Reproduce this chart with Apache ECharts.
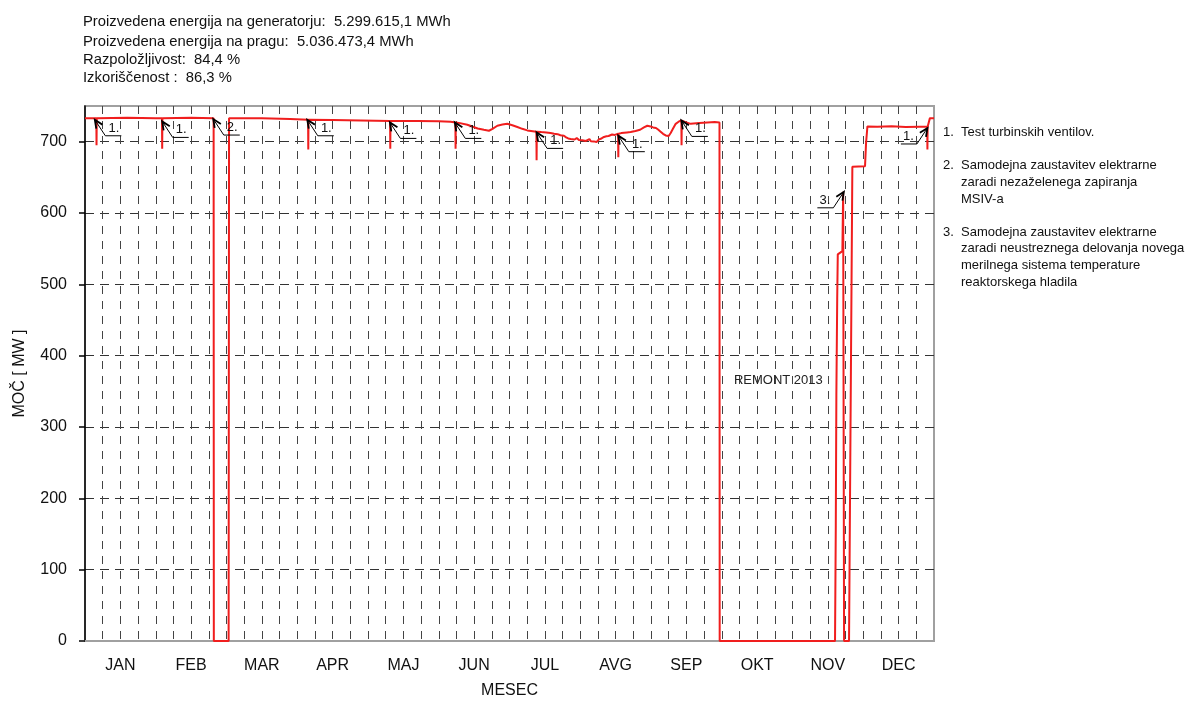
<!DOCTYPE html>
<html>
<head>
<meta charset="utf-8">
<script src="https://cdn.jsdelivr.net/npm/echarts@6/dist/echarts.min.js"></script>
<style>
html,body{margin:0;padding:0;background:#fff;}
#chart{width:1189px;height:704px;}
</style>
</head>
<body>
<div id="chart"></div>
<script>
// ---- DATA ----
const months = ['JAN','FEB','MAR','APR','MAJ','JUN','JUL','AVG','SEP','OKT','NOV','DEC'];
const yTicks = [0,100,200,300,400,500,600,700];

// Power trace [time in months from 1 Jan, power MW]
const traceJanFeb = [[0,733],[0.16,733],[0.163,695],[0.166,733],[0.6,733.5],[1.0,733],[1.088,733],[1.091,690],[1.094,733],[1.5,733.5],[1.818,733],[1.821,0],[2.03,0]];
const traceMarJun = [[2.036,733],[2.5,733],[2.9,731.7],[3.153,730.7],[3.156,689],[3.159,730.7],[3.5,730.5],[3.9,729.8],[4.312,729],[4.315,690],[4.318,729],[4.7,729],[5.0,728.5],[5.168,728],[5.235,727],[5.238,690],[5.241,727],[5.3,726],[5.404,723.7],[5.55,718.5],[5.638,716.7],[5.709,715.3],[5.76,718],[5.828,722.3],[5.9,724],[5.969,725],[6.04,723],[6.111,720.5],[6.18,718],[6.252,715.8]];
const traceJulSep = [[6.38,714],[6.383,674],[6.386,714],[6.45,713.5],[6.52,713],[6.581,712.2],[6.63,711],[6.68,710.5],[6.72,709],[6.769,708.4],[6.80,706],[6.83,704.5],[6.864,703.8],[6.89,705.5],[6.92,703],[6.95,705],[6.98,702.5],[7.0,704],[7.03,702],[7.052,703.8],[7.08,701],[7.1,702],[7.13,703.5],[7.15,700.5],[7.17,702.5],[7.193,700.4],[7.21,702],[7.23,699.5],[7.26,703],[7.29,704],[7.31,705.5],[7.335,706.6],[7.37,707.5],[7.4,708],[7.45,710],[7.49,709.5],[7.535,711],[7.538,678],[7.541,711],[7.58,712],[7.62,712.5],[7.66,713],[7.712,713.6],[7.78,715],[7.846,716.7],[7.9,720],[7.948,722.3],[7.995,721.4],[8.03,720],[8.07,719.2],[8.1,717],[8.136,714],[8.17,711],[8.19,709],[8.207,708.7],[8.23,710.5],[8.25,708],[8.278,712.2],[8.31,718],[8.349,725],[8.39,728],[8.429,729.8],[8.432,695],[8.435,729.5],[8.5,727],[8.561,725],[8.68,726],[8.797,727],[8.9,727.5],[8.968,727],[8.971,0]];
const traceOktDec = [[10.601,0],[10.612,162],[10.62,344],[10.632,480],[10.64,542],[10.705,546.6],[10.716,629.7],[10.726,629.7],[10.729,0],[10.799,0],[10.82,300],[10.846,665],[11.025,665.5],[11.04,698.6],[11.059,721.4],[11.2,721],[11.4,721.5],[11.6,720.5],[11.8,721],[11.904,721],[11.907,689],[11.91,721],[11.938,721],[11.942,733],[12,733]];

// Annotation arrows: tip position (months, MW), label, direction (+1 label right, -1 label left)
const annoT = [0.139,1.091,1.813,3.142,4.309,5.227,6.383,7.538,8.429,11.907,10.726];
const annoMW = [730.7,728.4,731.7,730.7,727,727,713,708.4,729.8,719.2,629.7];
const annoLabel = ['1.','1.','2.','1.','1.','1.','1.','1.','1.','1.','3.'];
const annoDir = [1,1,1,1,1,1,1,1,1,-1,-1];

// In-plot text
const noteT = [9.8];
const noteMW = [365];
const noteText = ['REMONT 2013'];

const headerLines = [
  'Proizvedena energija na generatorju:  5.299.615,1 MWh',
  'Proizvedena energija na pragu:  5.036.473,4 MWh',
  'Razpoložljivost:  84,4 %',
  'Izkoriščenost :  86,3 %'
];
const legendNumbers = ['1.','2.','3.'];
const legendLines = [
  ['Test turbinskih ventilov.'],
  ['Samodejna zaustavitev elektrarne','zaradi nezaželenega zapiranja','MSIV-a'],
  ['Samodejna zaustavitev elektrarne','zaradi neustreznega delovanja novega','merilnega sistema temperature','reaktorskega hladila']
];

// ---- CHART ----
const FONT = '"Liberation Sans", Arial, sans-serif';
const chart = echarts.init(document.getElementById('chart'), null, {renderer:'canvas'});

const trace = [].concat(traceJanFeb, traceMarJun, traceJulSep, traceOktDec);
const annoData = annoT.map((t,i)=>[t, annoMW[i]]);
const noteData = noteT.map((t,i)=>[t, noteMW[i]]);

const graphics = [];
const headerY = [21.5, 41.5, 60, 78.3];
headerLines.forEach((s,i)=>{
  graphics.push({type:'text', style:{x:83, y:headerY[i], text:s, font:'14.8px '+FONT, fill:'#111', verticalAlign:'middle'}});
});
const legendStartY = [132, 165.5, 232];
legendLines.forEach((lines,k)=>{
  graphics.push({type:'text', style:{x:943, y:legendStartY[k], text:legendNumbers[k], font:'13px '+FONT, fill:'#111', verticalAlign:'middle'}});
  lines.forEach((line,j)=>{
    graphics.push({type:'text', style:{x:961, y:legendStartY[k]+j*16.8, text:line, font:'13px '+FONT, fill:'#111', verticalAlign:'middle'}});
  });
});

const option = {
  animation:false,
  backgroundColor:'#fff',
  grid:{left:85, top:106, width:849, height:537, show:true, borderColor:'#a0a0a0', borderWidth:2, containLabel:false},
  xAxis:{
    type:'value', min:0, max:12, interval:0.25,
    name:'MESEC', nameLocation:'middle', nameGap:42,
    nameTextStyle:{fontSize:16, fontFamily:FONT, color:'#111'},
    axisLine:{show:true, lineStyle:{color:'#a0a0a0', width:2}},
    axisTick:{show:false},
    axisLabel:{
      interval:0, margin:17, fontSize:16, fontFamily:FONT, color:'#111',
      formatter:function(v){ const f=v-Math.floor(v); return Math.abs(f-0.5)<1e-6 ? months[Math.floor(v)] : ''; }
    },
    splitLine:{show:true, showMinLine:false, showMaxLine:false, lineStyle:{color:'#444', width:1, type:[8,7]}}
  },
  yAxis:{
    type:'value', min:0, max:750, interval:100,
    name:'MOČ [ MW ]', nameLocation:'middle', nameGap:57, nameRotate:90,
    nameTextStyle:{fontSize:16, fontFamily:FONT, color:'#111'},
    axisLine:{show:true, lineStyle:{color:'#000', width:1.5}},
    axisTick:{show:true, length:6, inside:false, customValues:yTicks, lineStyle:{color:'#000', width:1.5}},
    axisLabel:{margin:18, fontSize:16, fontFamily:FONT, color:'#111', customValues:yTicks},
    splitLine:{show:true, showMinLine:false, lineStyle:{color:'#333', width:1, type:[9,6]}}
  },
  graphic:graphics,
  series:[
    {
      type:'line', data:trace, showSymbol:false, symbol:'none', sampling:null,
      lineStyle:{color:'#f01e1e', width:2}, z:5
    },
    {
      type:'custom', data:annoData, z:6, clip:false,
      renderItem:function(params, api){
        const i = params.dataIndex;
        const p = api.coord([api.value(0), api.value(1)]);
        const d = annoDir[i];
        const ex = p[0] + d*10.5, ey = p[1] + 16;
        const hx = ex + d*16;
        const ang = Math.atan2(ey-p[1], ex-p[0]);
        const L = 9, a = 0.42;
        const h1 = [p[0]+L*Math.cos(ang+a), p[1]+L*Math.sin(ang+a)];
        const h2 = [p[0]+L*Math.cos(ang-a), p[1]+L*Math.sin(ang-a)];
        return {type:'group', children:[
          {type:'polyline', shape:{points:[p,[ex,ey],[hx,ey]]}, style:{stroke:'#000', lineWidth:1, fill:'none'}},
          {type:'polyline', shape:{points:[h1,p,h2]}, style:{stroke:'#000', lineWidth:1.8, fill:'none'}},
          {type:'text', style:{text:annoLabel[i], x:ex + d*8.5, y:ey-1, align:'center', verticalAlign:'bottom', font:'13px '+FONT, fill:'#111'}}
        ]};
      }
    },
    {
      type:'custom', data:noteData, z:6,
      renderItem:function(params, api){
        const p = api.coord([api.value(0), api.value(1)]);
        return {type:'text', style:{text:noteText[params.dataIndex], x:p[0], y:p[1], align:'center', verticalAlign:'middle', font:'13px '+FONT, fill:'#222'}};
      }
    }
  ]
};
chart.setOption(option);
</script>
</body>
</html>
